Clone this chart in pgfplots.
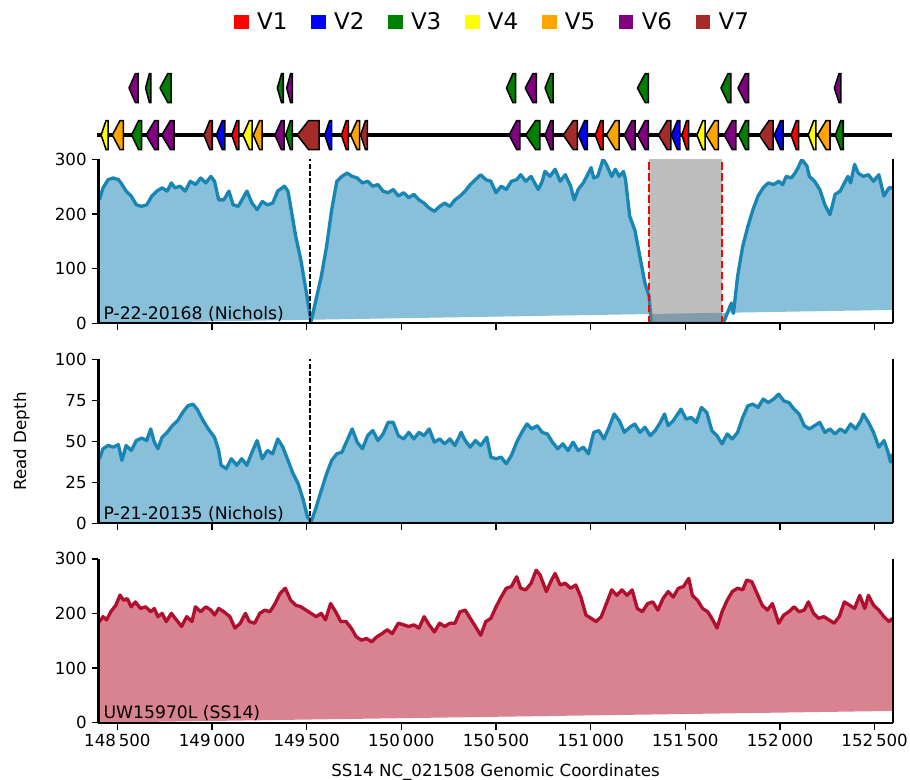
\documentclass[border=0pt]{standalone}
\usepackage{pgfplots}
\pgfplotsset{compat=1.18}
\usepackage{pgfplotstable}
\usepackage{fontspec}
\setmainfont{DejaVu Sans}

\definecolor{bline}{HTML}{1886B4}
\definecolor{bfill}{HTML}{88BFD9}
\definecolor{rline}{HTML}{B20F2E}
\definecolor{rfill}{HTML}{D98391}
\definecolor{gV1}{HTML}{FF0000}
\definecolor{gV2}{HTML}{0000FF}
\definecolor{gV3}{HTML}{008000}
\definecolor{gV4}{HTML}{FFFF00}
\definecolor{gV5}{HTML}{FFA500}
\definecolor{gV6}{HTML}{800080}
\definecolor{gV7}{HTML}{A52A2A}
\definecolor{shade}{HTML}{7D7D7D}

% first and last rows close the filled area (its slanted lower edge)
\pgfplotstableread{
x y
148400 0
148405 226
148424 248
148451 263
148478 266
148505 263
148519 257
148546 242
148573 233
148600 217
148628 214
148655 217
148682 233
148709 242
148736 248
148763 242
148785 257
148804 248
148831 251
148858 242
148885 260
148913 254
148940 266
148967 257
148994 269
149013 260
149035 226
149062 226
149089 242
149111 217
149138 214
149165 230
149184 242
149211 220
149238 208
149265 223
149292 217
149320 220
149347 242
149382 251
149401 242
149415 214
149442 159
149469 116
149496 61
149523 3
149545 37
149577 86
149605 141
149632 208
149659 260
149686 269
149713 275
149740 269
149767 266
149794 257
149822 260
149849 251
149876 254
149903 242
149930 239
149957 245
149984 233
150012 239
150039 230
150066 236
150093 226
150120 220
150147 211
150174 205
150202 214
150229 220
150256 214
150283 226
150310 233
150337 242
150364 254
150391 263
150419 272
150446 263
150473 260
150500 239
150527 251
150554 245
150581 260
150609 263
150630 272
150657 260
150685 269
150704 257
150723 245
150744 260
150758 278
150785 269
150812 282
150839 260
150866 272
150894 251
150913 226
150934 245
150961 257
150988 275
151002 285
151016 266
151037 269
151065 300
151083 291
151111 269
151130 282
151151 269
151173 278
151184 263
151206 196
151233 171
151260 122
151287 73
151309 49
151320 0
151700 0
151721 18
151743 37
151754 18
151776 86
151803 141
151830 177
151857 208
151884 233
151911 248
151938 257
151966 254
151993 260
152014 254
152033 269
152060 266
152079 275
152096 285
152115 300
152142 288
152155 269
152183 260
152210 245
152237 217
152264 199
152291 236
152318 242
152345 260
152359 269
152373 257
152394 291
152413 275
152440 269
152467 272
152494 260
152522 272
152549 233
152576 248
152594 248
152595 24.5
}\dA

\pgfplotstableread{
x y
148405 39.4
148424 45.5
148451 47.5
148478 46.5
148505 48
148524 38.4
148546 47.5
148573 44.4
148600 50.5
148628 52
148655 50.5
148676 57.6
148695 49.5
148714 45.5
148736 52.5
148763 55.5
148790 59.6
148818 62.6
148845 67.7
148872 71.7
148899 72.7
148921 69.7
148953 62.6
148980 57.6
149013 52.5
149035 44.4
149048 35.4
149075 33.3
149102 39.4
149130 35.4
149157 39.4
149184 35.4
149211 43.4
149238 50.5
149265 39.4
149292 44.4
149320 42.4
149347 51.5
149374 46.5
149401 38.4
149428 30.3
149455 24.2
149482 14.1
149504 4
149523 1
149545 8
149572 18.2
149605 30.3
149632 38.4
149659 42.4
149686 43.4
149713 50.5
149740 57.6
149767 49.5
149794 45.5
149822 53.5
149849 56.6
149876 50.5
149903 54.5
149930 61.6
149957 61.6
149984 53.5
150012 51.5
150039 55.5
150066 51.5
150093 55.5
150120 53.5
150147 57.6
150174 49.5
150202 51.5
150229 48.5
150256 51.5
150283 47.5
150316 55.5
150337 50.5
150364 46.5
150391 50.5
150419 47.5
150451 52.5
150473 40.4
150500 39.4
150527 40.4
150554 36.4
150581 41.4
150609 49.5
150636 55.5
150663 60.6
150690 57.6
150717 59.6
150744 55.5
150771 54.5
150798 49.5
150826 45.5
150853 48.5
150880 44.4
150907 49.5
150934 44.4
150961 46.5
150988 42.4
151016 55.5
151043 56.6
151070 51.5
151097 58.6
151124 66.7
151151 62.6
151178 55.5
151206 58.6
151233 60.6
151260 55.5
151287 58.6
151314 53.5
151341 56.6
151368 61.6
151390 66.7
151409 59.6
151436 62.6
151477 69.7
151504 63.6
151531 64.6
151558 61.6
151585 70.7
151613 67.7
151640 56.6
151667 53.5
151694 48.5
151721 54.5
151748 51.5
151776 55.5
151803 64.6
151830 71.7
151857 72.7
151884 70.7
151911 75.8
151938 73.7
151966 75.8
151993 78.8
152020 74.7
152047 73.7
152074 69.7
152101 66.7
152128 59.6
152155 57.6
152183 59.6
152210 61.6
152237 55.5
152264 57.6
152291 54.5
152318 57.6
152345 55.5
152373 60.6
152400 57.6
152427 62.6
152440 66.7
152467 61.6
152494 55.5
152522 46.5
152549 50.5
152568 44.4
152584 37.4
152595 42.4
}\dB

\pgfplotstableread{
x y
148400 0
148405 184.8
148424 194
148443 188
148465 203
148492 215
148514 233.6
148533 224
148552 227
148573 212
148595 221
148622 209
148649 212
148676 203
148695 209
148714 194
148736 200
148758 185
148785 200
148812 188
148839 176
148866 194
148894 185
148912 212
148940 203
148967 212
148994 206
149013 197
149035 209
149062 203
149094 194
149121 173
149149 182
149176 200
149197 185
149225 182
149252 200
149279 206
149306 203
149333 218
149360 237
149387 246
149415 224
149442 215
149469 212
149496 206
149523 200
149550 194
149577 200
149599 188
149626 218
149653 203
149680 185
149708 185
149735 173
149762 157
149789 151
149816 154
149843 148
149870 157
149898 163
149925 170
149952 163
149984 182
150012 179
150039 176
150066 179
150093 173
150120 194
150147 179
150174 166
150202 182
150229 176
150256 182
150283 182
150310 203
150337 206
150364 191
150391 176
150419 160
150446 185
150473 191
150500 212
150527 230
150554 246
150581 249
150609 267
150630 246
150657 243
150685 255
150712 279
150733 270
150766 240
150793 261
150812 273
150839 252
150866 255
150894 246
150921 252
150948 230
150975 197
151002 191
151029 185
151056 194
151083 218
151111 243
151138 233
151165 243
151192 233
151219 243
151246 209
151273 203
151301 218
151328 221
151355 206
151382 227
151409 240
151436 230
151463 246
151490 249
151518 264
151537 233
151564 224
151591 209
151618 203
151645 188
151667 173
151694 203
151721 224
151748 240
151776 246
151803 243
151824 261
151851 258
151878 237
151906 215
151933 206
151960 218
151993 182
152020 197
152047 203
152074 212
152101 203
152128 206
152150 221
152177 200
152204 191
152231 194
152259 188
152286 182
152313 194
152340 221
152367 215
152394 209
152421 233
152448 209
152467 233
152494 215
152522 206
152549 194
152576 185
152594 191
152595 21.4
}\dC

% gene arrow: start, end, row y, colour (tip at the start)
\newcommand\gene[4]{%
  \edef\genelen{\the\numexpr #2-#1\relax}%
  \edef\genehead{\the\numexpr 7*\genelen/10\relax}%
  \ifnum\genehead>60 \edef\genehead{60}\fi
  \edef\geneshoulder{\the\numexpr #1+\genehead\relax}%
  \edef\genetop{\the\numexpr #3+29\relax}%
  \edef\genebot{\the\numexpr #3-29\relax}%
  \edef\genecmd{\noexpand\addplot[forget plot, fill=#4, draw=black, line width=1.1pt, line join=miter]
    coordinates {(#1,#3) (\geneshoulder,\genetop) (#2,\genetop) (#2,\genebot) (\geneshoulder,\genebot) (#1,#3)};}%
  \genecmd}

\pgfplotsset{
  panel/.style={
    anchor=south west, scale only axis, width=571.8pt, height=118pt,
    xmin=148400, xmax=152595, ymin=0,
    axis x line*=bottom, axis y line*=box, ytick pos=left,
    tick align=outside, major tick length=5pt,
    every tick/.style={black, line width=1.1pt},
    axis line style={black, line width=1.6pt},
    axis on top, scaled x ticks=false,
    xtick={148500,149000,149500,150000,150500,151000,151500,152000,152500},
    xticklabel style={/pgf/number format/fixed, /pgf/number format/1000 sep={\,}, /pgf/number format/assume math mode=true},
    yticklabel style={/pgf/number format/assume math mode=true},
    tick label style={font=\fontsize{12}{14}\selectfont},
    label style={font=\fontsize{12}{14}\selectfont},
  },
  sq/.style={draw=none, fill=#1, legend image code/.code={\path[fill=#1] (0pt,-5.3pt) rectangle (10.6pt,5.3pt);}},
}

\begin{document}
\begin{tikzpicture}
\useasboundingbox (0,0) rectangle (655.2pt,560.9pt);

% ---------- gene track ----------
\begin{axis}[
  at={(70.9pt,451.4pt)}, anchor=south west, scale only axis,
  width=571.8pt, height=59.04pt, hide axis, clip=false,
  xmin=148400, xmax=152595, ymin=-34, ymax=130,
  legend columns=7,
  legend style={draw=none, fill=none, at={(0.4967,1.585)}, anchor=center,
    font=\fontsize{16.5}{18}\selectfont,
    /tikz/every odd column/.append style={column sep=4pt},
    /tikz/every even column/.append style={column sep=15pt}},
]
\addlegendimage{sq=gV1}\addlegendentry{V1}
\addlegendimage{sq=gV2}\addlegendentry{V2}
\addlegendimage{sq=gV3}\addlegendentry{V3}
\addlegendimage{sq=gV4}\addlegendentry{V4}
\addlegendimage{sq=gV5}\addlegendentry{V5}
\addlegendimage{sq=gV6}\addlegendentry{V6}
\addlegendimage{sq=gV7}\addlegendentry{V7}
\addplot[forget plot, black, line width=2.6pt] coordinates {(148393,0) (152592,0)};
% lower row
\gene{148414}{148451}{0}{gV4}
\gene{148473}{148531}{0}{gV5}
\gene{148575}{148628}{0}{gV3}
\gene{148652}{148716}{0}{gV6}
\gene{148734}{148799}{0}{gV6}
\gene{148957}{149001}{0}{gV7}
\gene{149022}{149068}{0}{gV2}
\gene{149104}{149142}{0}{gV1}
\gene{149163}{149212}{0}{gV4}
\gene{149218}{149265}{0}{gV5}
\gene{149332}{149380}{0}{gV6}
\gene{149389}{149424}{0}{gV3}
\gene{149450}{149565}{0}{gV7}
\gene{149595}{149632}{0}{gV2}
\gene{149683}{149720}{0}{gV1}
\gene{149732}{149780}{0}{gV5}
\gene{149785}{149820}{0}{gV7}
\gene{150569}{150626}{0}{gV6}
\gene{150657}{150731}{0}{gV3}
\gene{150759}{150802}{0}{gV6}
\gene{150855}{150930}{0}{gV7}
\gene{150934}{150983}{0}{gV2}
\gene{151024}{151066}{0}{gV1}
\gene{151083}{151150}{0}{gV5}
\gene{151177}{151235}{0}{gV6}
\gene{151247}{151305}{0}{gV6}
\gene{151358}{151424}{0}{gV7}
\gene{151426}{151471}{0}{gV2}
\gene{151482}{151517}{0}{gV1}
\gene{151561}{151605}{0}{gV4}
\gene{151609}{151675}{0}{gV5}
\gene{151705}{151767}{0}{gV6}
\gene{151781}{151834}{0}{gV3}
\gene{151890}{151964}{0}{gV7}
\gene{151970}{152017}{0}{gV2}
\gene{152058}{152098}{0}{gV1}
\gene{152149}{152190}{0}{gV4}
\gene{152198}{152264}{0}{gV5}
\gene{152292}{152334}{0}{gV3}
% upper row
\gene{148561}{148610}{94}{gV6}
\gene{148649}{148677}{94}{gV3}
\gene{148725}{148784}{94}{gV3}
\gene{149345}{149376}{94}{gV3}
\gene{149394}{149424}{94}{gV6}
\gene{150555}{150604}{94}{gV3}
\gene{150654}{150713}{94}{gV6}
\gene{150759}{150802}{94}{gV3}
\gene{151247}{151305}{94}{gV3}
\gene{151688}{151741}{94}{gV3}
\gene{151778}{151834}{94}{gV6}
\gene{152287}{152322}{94}{gV6}
\end{axis}

% ---------- panel 1 ----------
\begin{axis}[panel, at={(70.9pt,328.1pt)}, ymax=300, ytick={0,100,200,300}, xticklabels={}]
\addplot[fill=bfill, draw=none] table {\dA};
\addplot[bline, line width=2.4pt, line join=round, restrict x to domain=148401:152594.5] table {\dA};
\addplot[fill=shade, fill opacity=0.5, draw=none] coordinates {(151310,0) (151695,0) (151695,300) (151310,300)};
\addplot[red, line width=1.6pt, dash pattern=on 5.5pt off 2.4pt] coordinates {(151310,0) (151310,300)};
\addplot[red, line width=1.6pt, dash pattern=on 5.5pt off 2.4pt] coordinates {(151695,0) (151695,300)};
\addplot[black, line width=1.4pt, dash pattern=on 3.7pt off 1.6pt] coordinates {(149515,0) (149515,300)};
\node[anchor=base west, inner sep=0pt, font=\fontsize{12.4}{14}\selectfont] at (rel axis cs:0.006,0.026) {P-22-20168 (Nichols)};
\end{axis}

% ---------- panel 2 ----------
\begin{axis}[panel, at={(70.9pt,184.1pt)}, ymax=100, ytick={0,25,50,75,100}, xticklabels={},
  ylabel={Read Depth}, ylabel style={at={(axis description cs:-0.097,0.5)}, anchor=center}]
\addplot[fill=bfill, draw=none] table {\dB} \closedcycle;
\addplot[bline, line width=2.4pt, line join=round] table {\dB};
\addplot[black, line width=1.4pt, dash pattern=on 3.7pt off 1.6pt] coordinates {(149515,0) (149515,100)};
\node[anchor=base west, inner sep=0pt, font=\fontsize{12.4}{14}\selectfont] at (rel axis cs:0.006,0.026) {P-21-20135 (Nichols)};
\end{axis}

% ---------- panel 3 ----------
\begin{axis}[panel, at={(70.9pt,40.6pt)}, ymax=300, ytick={0,100,200,300},
  xlabel={SS14 NC\_021508 Genomic Coordinates}, xlabel style={yshift=-5pt}]
\addplot[fill=rfill, draw=none] table {\dC};
\addplot[rline, line width=2.4pt, line join=round, restrict x to domain=148401:152594.5] table {\dC};
\node[anchor=base west, inner sep=0pt, font=\fontsize{12.4}{14}\selectfont] at (rel axis cs:0.006,0.026) {UW15970L (SS14)};
\end{axis}
\end{tikzpicture}
\end{document}
